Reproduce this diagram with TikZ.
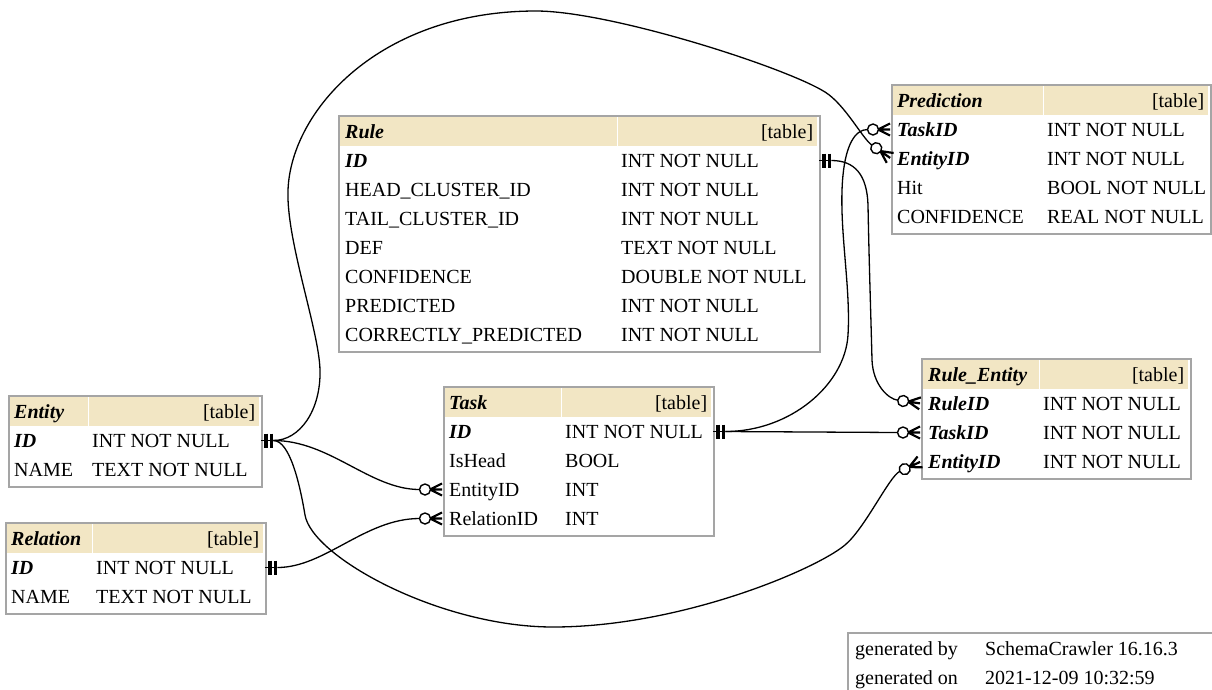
\documentclass[tikz,border=0pt]{standalone}
\usepackage{fontspec}
\setmainfont{Liberation Serif}
\definecolor{headfill}{RGB}{242,230,196}
\definecolor{framegray}{RGB}{165,165,165}
\newcommand\myBI[1]{\textbf{\textit{#1}}}
\tikzset{
  conn/.style={draw=black, line width=1.3pt},
  tframe/.style={draw=framegray, line width=1.5pt, fill=white, inner sep=0pt, anchor=north west},
  thead/.style={fill=headfill, inner sep=0pt, minimum height=29pt, anchor=west, text height=13.5pt, text depth=0pt},
  trow/.style={inner sep=0pt, minimum height=29pt, anchor=west, text height=13.5pt, text depth=0pt},
  hsep/.style={draw=white, line width=1pt},
  pkmark/.pic={
    \draw[conn] (0,0) -- (12,0);
    \draw[line width=3.6pt] (4.5,-7) -- (4.5,7) (10,-7) -- (10,7);
    \coordinate (-tail) at (12,0);
  },
  fkmark/.pic={
    \draw[line width=2.2pt] (-13,0) -- (-1,-6) (-13,0) -- (-1,0) (-13,0) -- (-1,6);
    \draw[line width=1.4pt, fill=white] (-18,0) circle[radius=5.5pt];
    \coordinate (-tail) at (-23.5,0);
  }
}
\begin{document}
\begin{tikzpicture}[x=1pt,y=-1pt,font=\fontsize{20pt}{24pt}\selectfont]
\path[use as bounding box, fill=white] (0,0) rectangle (1212,689);

% ---------- Rule ----------
\node[tframe, minimum width=481pt, minimum height=236pt] (rule) at (338,115) {};
\node[thead] (rule-h) at (340,131.5) {\makebox[477pt][l]{\hspace*{5pt}\myBI{Rule}\hfill[table]\hspace*{4pt}}};
\draw[hsep] (617,117) -- (617,146);
\node[trow] (rule-id) at (338,160.5) {\makebox[481pt][l]{\hspace*{7pt}\makebox[276pt][l]{\myBI{ID}}INT NOT NULL}};
\node[trow] (rule-head) at (338,189.5) {\makebox[481pt][l]{\hspace*{7pt}\makebox[276pt][l]{HEAD\_CLUSTER\_ID}INT NOT NULL}};
\node[trow] (rule-tail) at (338,218.5) {\makebox[481pt][l]{\hspace*{7pt}\makebox[276pt][l]{TAIL\_CLUSTER\_ID}INT NOT NULL}};
\node[trow] (rule-def) at (338,247.5) {\makebox[481pt][l]{\hspace*{7pt}\makebox[276pt][l]{DEF}TEXT NOT NULL}};
\node[trow] (rule-conf) at (338,276.5) {\makebox[481pt][l]{\hspace*{7pt}\makebox[276pt][l]{CONFIDENCE}DOUBLE NOT NULL}};
\node[trow] (rule-pred) at (338,305.5) {\makebox[481pt][l]{\hspace*{7pt}\makebox[276pt][l]{PREDICTED}INT NOT NULL}};
\node[trow] (rule-corr) at (338,334.5) {\makebox[481pt][l]{\hspace*{7pt}\makebox[276pt][l]{CORRECTLY\_PREDICTED}INT NOT NULL}};

% ---------- Prediction ----------
\node[tframe, minimum width=319pt, minimum height=149pt] (pred) at (891,84) {};
\node[thead] (pred-h) at (893,100.5) {\makebox[315pt][l]{\hspace*{4pt}\myBI{Prediction}\hfill[table]\hspace*{4pt}}};
\draw[hsep] (1043,86) -- (1043,115);
\node[trow] (pred-taskid) at (891,129.5) {\makebox[319pt][l]{\hspace*{6pt}\makebox[150pt][l]{\myBI{TaskID}}INT NOT NULL}};
\node[trow] (pred-entityid) at (891,158.5) {\makebox[319pt][l]{\hspace*{6pt}\makebox[150pt][l]{\myBI{EntityID}}INT NOT NULL}};
\node[trow] (pred-hit) at (891,187.5) {\makebox[319pt][l]{\hspace*{6pt}\makebox[150pt][l]{Hit}BOOL NOT NULL}};
\node[trow] (pred-conf) at (891,216.5) {\makebox[319pt][l]{\hspace*{6pt}\makebox[150pt][l]{CONFIDENCE}REAL NOT NULL}};

% ---------- Rule_Entity ----------
\node[tframe, minimum width=269pt, minimum height=120pt] (re) at (921,358) {};
\node[thead] (re-h) at (923,374.5) {\makebox[265pt][l]{\hspace*{5pt}\myBI{Rule\_Entity}\hfill[table]\hspace*{4pt}}};
\draw[hsep] (1039,360) -- (1039,389);
\node[trow] (re-ruleid) at (921,403.5) {\makebox[269pt][l]{\hspace*{7pt}\makebox[115pt][l]{\myBI{RuleID}}INT NOT NULL}};
\node[trow] (re-taskid) at (921,432.5) {\makebox[269pt][l]{\hspace*{7pt}\makebox[115pt][l]{\myBI{TaskID}}INT NOT NULL}};
\node[trow] (re-entityid) at (921,461.5) {\makebox[269pt][l]{\hspace*{7pt}\makebox[115pt][l]{\myBI{EntityID}}INT NOT NULL}};

% ---------- Task ----------
\node[tframe, minimum width=270pt, minimum height=149pt] (task) at (443,386) {};
\node[thead] (task-h) at (445,402.5) {\makebox[266pt][l]{\hspace*{4pt}\myBI{Task}\hfill[table]\hspace*{4pt}}};
\draw[hsep] (561,388) -- (561,417);
\node[trow] (task-id) at (443,431.5) {\makebox[270pt][l]{\hspace*{6pt}\makebox[116pt][l]{\myBI{ID}}INT NOT NULL}};
\node[trow] (task-ishead) at (443,460.5) {\makebox[270pt][l]{\hspace*{6pt}\makebox[116pt][l]{IsHead}BOOL}};
\node[trow] (task-entityid) at (443,489.5) {\makebox[270pt][l]{\hspace*{6pt}\makebox[116pt][l]{EntityID}INT}};
\node[trow] (task-relationid) at (443,518.5) {\makebox[270pt][l]{\hspace*{6pt}\makebox[116pt][l]{RelationID}INT}};

% ---------- Entity ----------
\node[tframe, minimum width=253pt, minimum height=91pt] (ent) at (8,395) {};
\node[thead] (ent-h) at (10,411.5) {\makebox[249pt][l]{\hspace*{4pt}\myBI{Entity}\hfill[table]\hspace*{4pt}}};
\draw[hsep] (88,397) -- (88,426);
\node[trow] (ent-id) at (8,440.5) {\makebox[253pt][l]{\hspace*{6pt}\makebox[78pt][l]{\myBI{ID}}INT NOT NULL}};
\node[trow] (ent-name) at (8,469.5) {\makebox[253pt][l]{\hspace*{6pt}\makebox[78pt][l]{NAME}TEXT NOT NULL}};

% ---------- Relation ----------
\node[tframe, minimum width=260pt, minimum height=91pt] (rel) at (5,522) {};
\node[thead] (rel-h) at (7,538.5) {\makebox[256pt][l]{\hspace*{4pt}\myBI{Relation}\hfill[table]\hspace*{4pt}}};
\draw[hsep] (92,524) -- (92,553);
\node[trow] (rel-id) at (5,567.5) {\makebox[260pt][l]{\hspace*{6pt}\makebox[85pt][l]{\myBI{ID}}INT NOT NULL}};
\node[trow] (rel-name) at (5,596.5) {\makebox[260pt][l]{\hspace*{6pt}\makebox[85pt][l]{NAME}TEXT NOT NULL}};

% ---------- footer ----------
\node[tframe, minimum width=400pt, minimum height=90pt] (foot) at (847,632) {};
\node[trow] (foot-by) at (847,648.5) {\makebox[365pt][l]{\hspace*{8pt}\makebox[130pt][l]{generated by}SchemaCrawler 16.16.3}};
\node[trow] (foot-on) at (847,677.5) {\makebox[365pt][l]{\hspace*{8pt}\makebox[130pt][l]{generated on}2021-12-09 10:32:59}};

% ---------- end marks ----------
\pic (pkE) at (ent-id.east) {pkmark};
\pic (pkR) at (rel-id.east) {pkmark};
\pic (pkT) at (task-id.east) {pkmark};
\pic (pkRu) at (rule-id.east) {pkmark};
\pic (fkTE) at (task-entityid.west) {fkmark};
\pic (fkTR) at (task-relationid.west) {fkmark};
\pic[rotate=-35] (fkPE) at (pred-entityid.west) {fkmark};
\pic (fkPT) at (pred-taskid.west) {fkmark};
\pic[rotate=-8] (fkRER) at (re-ruleid.west) {fkmark};
\pic (fkRET) at (re-taskid.west) {fkmark};
\pic[rotate=25] (fkREE) at (re-entityid.west) {fkmark};

% ---------- connectors ----------
% Entity.ID -> Prediction.EntityID
\draw[conn] (pkE-tail) .. controls (300,440.5) and (321,410) .. (320,370)
  .. controls (319,330) and (286,240) .. (288,190)
  .. controls (291,110) and (380,11) .. (536,11)
  .. controls (610,11) and (785,67) .. (825,92)
  .. controls (845,104.5) and (862.4,138.4) .. (fkPE-tail);
% Entity.ID -> Task.EntityID
\draw[conn] (pkE-tail) .. controls (330,440.5) and (370,489.5) .. (fkTE-tail);
% Relation.ID -> Task.RelationID
\draw[conn] (pkR-tail) .. controls (325,567.5) and (365,518.5) .. (fkTR-tail);
% Entity.ID -> Rule_Entity.EntityID
\draw[conn] (pkE-tail) .. controls (290,440.5) and (300,485) .. (305,515)
  .. controls (312,557) and (440,627) .. (553,627)
  .. controls (680,627) and (815,570) .. (845,545)
  .. controls (865,528.3) and (889.3,476.3) .. (fkREE-tail);
% Task.ID -> Rule_Entity.TaskID
\draw[conn] (pkT-tail) -- (fkRET-tail);
% Task.ID -> Prediction.TaskID
\draw[conn] (pkT-tail) .. controls (790,431.5) and (845,385) .. (848,335)
  .. controls (851,285) and (838,225) .. (843,175)
  .. controls (846,145) and (855,129.5) .. (fkPT-tail);
% Rule.ID -> Rule_Entity.RuleID
\draw[conn] (pkRu-tail) .. controls (855,160.5) and (867,175) .. (868,205)
  .. controls (869,260) and (871,320) .. (872,360)
  .. controls (873,385) and (888.3,398.9) .. (fkRER-tail);
\end{tikzpicture}
\end{document}
